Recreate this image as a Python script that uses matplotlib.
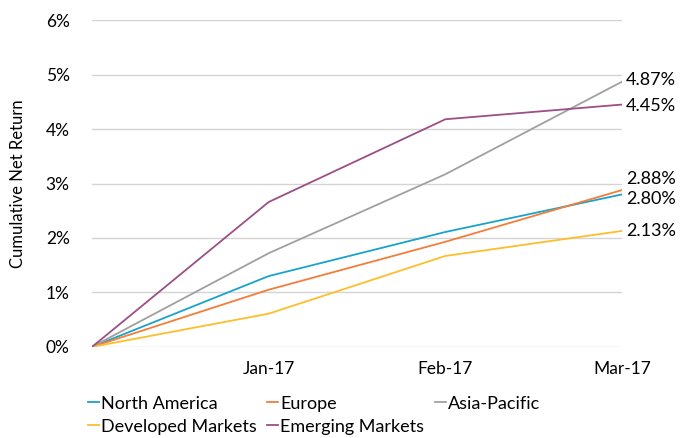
import matplotlib
matplotlib.use('Agg')
import matplotlib.pyplot as plt
from matplotlib import rcParams

rcParams['font.family'] = ['Lato', 'DejaVu Sans']
rcParams['font.size'] = 12

# data
months = ['', 'Jan-17', 'Feb-17', 'Mar-17']
north_america = [0.0, 1.30, 2.11, 2.80]
europe = [0.0, 1.05, 1.93, 2.88]
asia_pacific = [0.0, 1.72, 3.17, 4.87]
developed = [0.0, 0.61, 1.67, 2.13]
emerging = [0.0, 2.66, 4.18, 4.45]

series = [
    ('North America', north_america, '#1aa3c9', -3),
    ('Europe', europe, '#f47d3a', 8),
    ('Asia-Pacific', asia_pacific, '#a0a0a0', 1),
    ('Developed Markets', developed, '#fdbe2c', 0),
    ('Emerging Markets', emerging, '#9b4f86', -1),
]

fig = plt.figure(figsize=(6.89, 4.38), dpi=100)
ax = fig.add_axes([0.1335, 0.208, 0.9028 - 0.1335, 0.746])

x = list(range(len(months)))
lines = {}
for name, vals, color, dy in series:
    ln, = ax.plot(x, vals, color=color, lw=1.3, label=name)
    lines[name] = ln
    ax.annotate('%.2f%%' % vals[-1], xy=(x[-1], vals[-1]),
                xytext=(3, dy), textcoords='offset points',
                ha='left', va='center', fontsize=13, color='black',
                annotation_clip=False)

ax.set_xlim(0, 3)
ax.set_ylim(0, 6)
ax.set_yticks(range(7))
ax.set_yticklabels(['%d%%' % v for v in range(7)])
ax.set_xticks(x[1:])
ax.set_xticklabels(months[1:])
ax.grid(axis='y', color='#d4d4d4', lw=1)
ax.set_axisbelow(True)
for s in ax.spines.values():
    s.set_visible(False)
ax.tick_params(axis='both', length=0, labelsize=12.5)
ax.tick_params(axis='y', pad=16)
ax.tick_params(axis='x', pad=10)
ax.set_ylabel('Cumulative Net Return', fontsize=12, labelpad=14)

order = ['North America', 'Developed Markets', 'Europe',
         'Emerging Markets', 'Asia-Pacific']
leg = fig.legend([lines[n] for n in order], order, ncol=3,
                 loc='upper left', bbox_to_anchor=(0.128, 0.097),
                 frameon=False, handlelength=0.6, handletextpad=0.1,
                 columnspacing=0.6, labelspacing=0.4, fontsize=13,
                 borderaxespad=0, borderpad=0)

plt.savefig('out.png', dpi=100)
